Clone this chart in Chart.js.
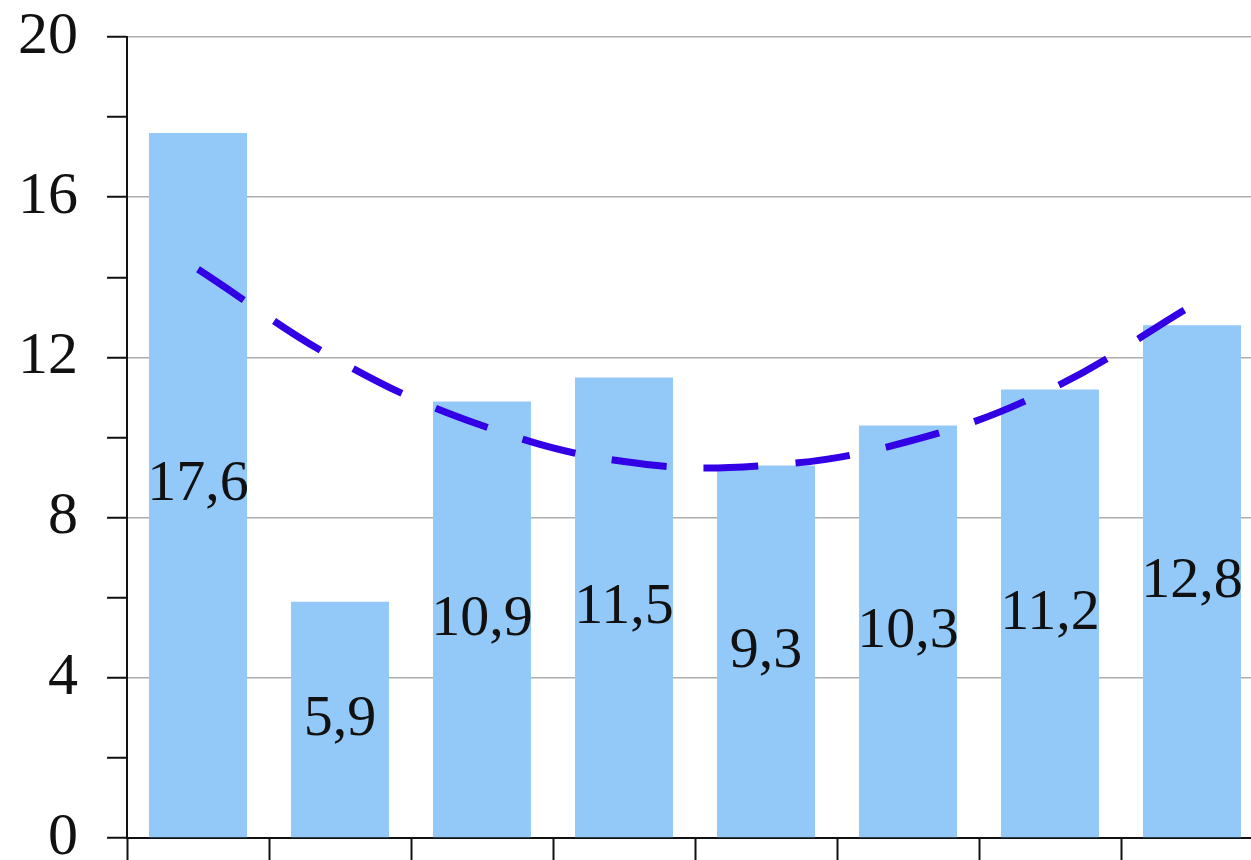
<!DOCTYPE html>
<html>
<head>
<meta charset="utf-8">
<script src="https://cdn.jsdelivr.net/npm/chart.js@4/dist/chart.umd.min.js"></script>
<style>
  html, body { margin: 0; padding: 0; background: #ffffff; overflow: hidden; }
  #wrap { width: 1263px; height: 860px; }
</style>
</head>
<body>
<div id="wrap"><canvas id="chart" width="1263" height="860"></canvas></div>
<script>
// Eight periods; the axis shows only tick marks between them.
const categories = ['1', '2', '3', '4', '5', '6', '7', '8'];
// Bar heights (also printed inside each bar).
const barValues = [17.6, 5.9, 10.9, 11.5, 9.3, 10.3, 11.2, 12.8];
// Dashed trend curve, value at each category centre.
const trendValues = [14.2, 11.9, 10.3, 9.4, 9.3, 9.9, 11.2, 13.3];
// Y axis: 0..20, tick marks every 2, labels and grid every 4.
const yMin = 0;
const yMax = 20;
const yMinorStep = 2;
const yLabelStep = 4;

const SERIF = "'Liberation Serif', 'Times New Roman', serif";

// Writes each bar's value (decimal comma) in the middle of the bar.
const barValueLabels = {
  id: 'barValueLabels',
  afterDatasetsDraw(chart) {
    const ctx = chart.ctx;
    chart.data.datasets.forEach((ds, i) => {
      if (ds.type !== 'bar') return;
      const meta = chart.getDatasetMeta(i);
      meta.data.forEach((el, j) => {
        const v = ds.data[j];
        const text = v.toFixed(1).replace('.', ',');
        ctx.save();
        ctx.font = '58px ' + SERIF;
        ctx.fillStyle = '#111111';
        ctx.textAlign = 'center';
        ctx.textBaseline = 'middle';
        ctx.fillText(text, el.x, (el.y + el.base) / 2);
        ctx.restore();
      });
    });
  }
};

// Fixed axis sizes so the plot area sits exactly where wanted.
function noScalePadding(scale) {
  scale.paddingTop = 0;
  scale.paddingBottom = 0;
  scale.paddingLeft = 0;
  scale.paddingRight = 0;
}

new Chart(document.getElementById('chart'), {
  data: {
    labels: categories,
    datasets: [
      {
        type: 'line',
        data: trendValues,
        borderColor: '#3300e6',
        borderWidth: 7,
        borderDash: [55, 37],
        borderCapStyle: 'butt',
        tension: 0.4,
        pointRadius: 0,
        fill: false,
        order: 0
      },
      {
        type: 'bar',
        data: barValues,
        backgroundColor: '#93c9f9',
        borderWidth: 0,
        categoryPercentage: 1.0,
        barPercentage: 0.69,
        order: 1
      }
    ]
  },
  options: {
    responsive: false,
    animation: false,
    devicePixelRatio: 1,
    layout: { padding: { top: 37, left: 0, right: 0, bottom: 0 } },
    plugins: {
      legend: { display: false },
      tooltip: { enabled: false }
    },
    scales: {
      x: {
        type: 'category',
        offset: true,
        afterFit(scale) { scale.height = 22; noScalePadding(scale); },
        grid: {
          offset: true,
          drawOnChartArea: false,
          drawTicks: true,
          tickLength: 22,
          tickColor: '#111111',
          tickWidth: 2
        },
        border: { display: true, color: '#111111', width: 2 },
        ticks: { display: false }
      },
      y: {
        min: yMin,
        max: yMax,
        afterFit(scale) { scale.width = 127; noScalePadding(scale); },
        grid: {
          color: (c) => (c.tick && c.tick.value % yLabelStep === 0) ? 'rgba(160,160,160,0.85)' : 'rgba(0,0,0,0)',
          lineWidth: 1.5,
          drawTicks: true,
          tickLength: 20,
          tickColor: '#111111',
          tickWidth: 2
        },
        border: { display: true, color: '#111111', width: 2 },
        ticks: {
          stepSize: yMinorStep,
          autoSkip: false,
          padding: 29,
          color: '#111111',
          font: { family: SERIF, size: 60 },
          callback: (v) => (v % yLabelStep === 0 ? String(v) : '')
        }
      }
    }
  },
  plugins: [barValueLabels]
});
</script>
</body>
</html>
